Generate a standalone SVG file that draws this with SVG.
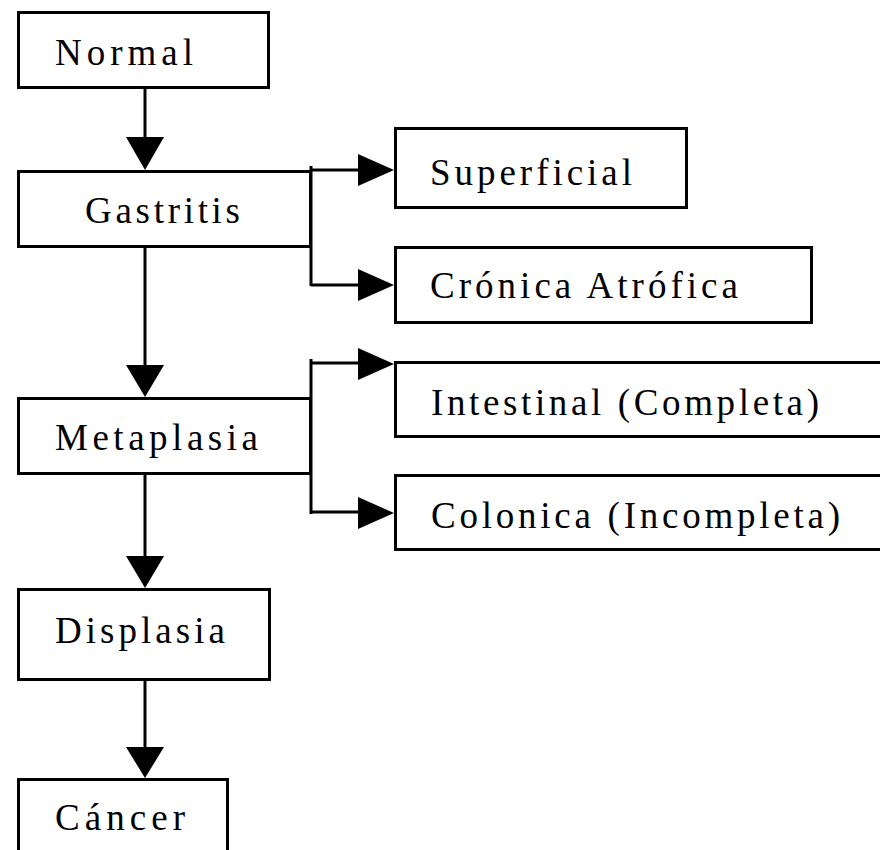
<svg xmlns="http://www.w3.org/2000/svg" width="880" height="850" viewBox="0 0 880 850">
<style>
.box{fill:#fff;stroke:#000;stroke-width:3}
.lbl{font-family:"Liberation Serif","Times New Roman",serif;font-size:37px;fill:#000}
.ln{stroke:#000;stroke-width:3;fill:none}
.ah{fill:#000;stroke:none}
</style>
<rect width="880" height="850" fill="#fff"/>
<g id="connectors">
<line class="ln" x1="145" y1="88" x2="145" y2="140"/>
<polygon class="ah" points="126,137 164,137 145,170"/>
<line class="ln" x1="145" y1="247" x2="145" y2="368"/>
<polygon class="ah" points="126,365 164,365 145,397"/>
<line class="ln" x1="145" y1="474" x2="145" y2="559"/>
<polygon class="ah" points="126,556 164,556 145,588"/>
<line class="ln" x1="145" y1="680" x2="145" y2="750"/>
<polygon class="ah" points="126,747 164,747 145,778"/>
<path class="ln" d="M311,166 V286 M311,170 H360 M311,285 H360"/>
<polygon class="ah" points="358,154 358,186 394,170"/>
<polygon class="ah" points="358,269 358,301 394,285"/>
<path class="ln" d="M311,359 V514 M311,363 H360 M311,512 H360"/>
<polygon class="ah" points="358,348 358,380 394,364"/>
<polygon class="ah" points="358,497 358,529 394,513"/>
</g>
<g id="normal"><rect class="box" x="18.5" y="12.5" width="250" height="75"/><text class="lbl" x="55" y="65" textLength="138" lengthAdjust="spacing">Normal</text></g>
<g id="gastritis"><rect class="box" x="18.5" y="171.5" width="292" height="75"/><text class="lbl" x="85" y="223" textLength="155" lengthAdjust="spacing">Gastritis</text></g>
<g id="superficial"><rect class="box" x="395.5" y="128.5" width="291" height="79"/><text class="lbl" x="430" y="185" textLength="202" lengthAdjust="spacing">Superficial</text></g>
<g id="cronica"><rect class="box" x="395.5" y="247.5" width="416" height="75"/><text class="lbl" x="430" y="298" textLength="308" lengthAdjust="spacing">Crónica Atrófica</text></g>
<g id="metaplasia"><rect class="box" x="18.5" y="398.5" width="292" height="75"/><text class="lbl" x="55" y="450" textLength="203" lengthAdjust="spacing">Metaplasia</text></g>
<g id="intestinal"><rect class="box" x="395.5" y="362.5" width="500" height="74"/><text class="lbl" x="431" y="415" textLength="388" lengthAdjust="spacing">Intestinal (Completa)</text></g>
<g id="colonica"><rect class="box" x="395.5" y="475.5" width="500" height="74"/><text class="lbl" x="431" y="528" textLength="409" lengthAdjust="spacing">Colonica (Incompleta)</text></g>
<g id="displasia"><rect class="box" x="18.5" y="589.5" width="251" height="90"/><text class="lbl" x="55" y="643" textLength="170" lengthAdjust="spacing">Displasia</text></g>
<g id="cancer"><rect class="box" x="18.5" y="779.5" width="209" height="100"/><text class="lbl" x="55" y="830" textLength="130" lengthAdjust="spacing">Cáncer</text></g>
</svg>
